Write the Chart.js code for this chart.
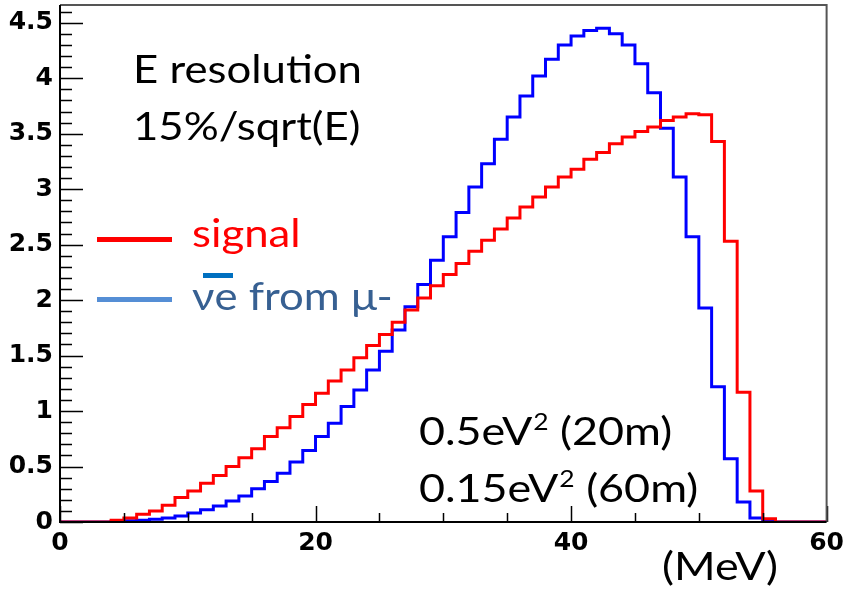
<!DOCTYPE html>
<html>
<head>
<meta charset="utf-8">
<script src="https://cdn.jsdelivr.net/npm/chart.js@4.4.0/dist/chart.umd.min.js"></script>
<style>
  html, body { margin: 0; padding: 0; background: #fff; }
  #wrap { width: 850px; height: 591px; }
</style>
</head>
<body>
<div id="wrap"><canvas id="spectrum"></canvas></div>
<script>
// 1 MeV bins from 0 to 60
const binEdges = [0,1,2,3,4,5,6,7,8,9,10,11,12,13,14,15,16,17,18,19,20,21,22,23,24,25,26,27,28,29,
    30,31,32,33,34,35,36,37,38,39,40,41,42,43,44,45,46,47,48,49,50,51,52,53,54,55,56,57,58,59,60];

const signal = [0,0,0,0,0.015,0.035,0.07,0.10,0.15,0.22,
    0.28,0.35,0.42,0.50,0.58,0.66,0.77,0.85,0.95,1.06,
    1.16,1.27,1.37,1.48,1.59,1.69,1.80,1.91,2.02,2.13,
    2.23,2.33,2.44,2.54,2.64,2.74,2.84,2.93,3.02,3.11,
    3.18,3.27,3.33,3.41,3.47,3.52,3.56,3.62,3.65,3.68,
    3.67,3.43,2.53,1.17,0.28,0.03,0,0,0,0];

const nueBar = [0,0,0,0,0.005,0.012,0.015,0.025,0.035,0.055,
    0.08,0.11,0.145,0.19,0.235,0.30,0.365,0.44,0.54,0.645,
    0.77,0.89,1.04,1.19,1.37,1.54,1.73,1.94,2.14,2.36,
    2.57,2.79,3.02,3.23,3.45,3.65,3.84,4.02,4.17,4.30,
    4.38,4.43,4.45,4.40,4.30,4.13,3.87,3.55,3.11,2.57,
    1.93,1.22,0.57,0.18,0.036,0.012,0,0,0,0];

const xTicks = [0, 20, 40, 60];
const yTicks = [0, 0.5, 1, 1.5, 2, 2.5, 3, 3.5, 4, 4.5];
const xMinorStep = 5;
const yMinorStep = 0.1;
const yMax = 4.66;

const textStretch = 1.15; // the slide text is a little wide

function toSteps(values) {
    const pts = values.map((v, i) => ({ x: binEdges[i], y: v }));
    pts.push({ x: binEdges[values.length], y: values[values.length - 1] });
    return pts;
}

// ROOT style frame with inward ticks
const frameTicks = {
    id: "frameTicks",
    afterDatasetsDraw(chart) {
        const { ctx, chartArea: a, scales } = chart;
        const xs = scales.x, ys = scales.y;
        ctx.save();
        ctx.strokeStyle = "#000";
        ctx.lineWidth = 1.5;
        ctx.beginPath();
        for (let v = 0; v <= yMax + 1e-9; v += yMinorStep) {
            const y = Math.round(ys.getPixelForValue(v)) + 0.5;
            const major = Math.abs(v / 0.5 - Math.round(v / 0.5)) < 1e-6;
            ctx.moveTo(a.left, y);
            ctx.lineTo(a.left + (major ? 23 : 12), y);
        }
        for (let v = 0; v <= 60; v += xMinorStep) {
            const x = Math.round(xs.getPixelForValue(v)) + 0.5;
            const major = v % 20 === 0;
            ctx.moveTo(x, a.bottom);
            ctx.lineTo(x, a.bottom - (major ? 16 : 9));
        }
        ctx.stroke();

        ctx.lineWidth = 2;
        ctx.strokeStyle = "#555";
        ctx.beginPath();
        ctx.moveTo(a.left, a.top);
        ctx.lineTo(a.right, a.top);
        ctx.lineTo(a.right, a.bottom);
        ctx.stroke();
        ctx.strokeStyle = "#000";
        ctx.beginPath();
        ctx.moveTo(a.left, a.top);
        ctx.lineTo(a.left, a.bottom);
        ctx.lineTo(a.right, a.bottom);
        ctx.stroke();
        ctx.restore();
    }
};

// draws text widened, returns the advance
function wideText(ctx, text, x, y, size) {
    ctx.font = size + "px Lato";
    ctx.save();
    ctx.translate(x, y);
    ctx.scale(textStretch, 1);
    ctx.fillText(text, 0, 0);
    ctx.restore();
    return ctx.measureText(text).width * textStretch;
}

function supText(ctx, x, y, base, sup, rest, size) {
    x += wideText(ctx, base, x, y, size) + 1;
    x += wideText(ctx, sup, x, y - size * 0.38, Math.round(size * 0.6));
    wideText(ctx, rest, x, y, size);
}

const annotations = {
    id: "annotations",
    afterDraw(chart) {
        const ctx = chart.ctx;
        ctx.save();
        ctx.textBaseline = "alphabetic";
        ctx.textAlign = "left";
        ctx.fillStyle = "#000";
        wideText(ctx, "E resolution", 133, 83, 38);
        wideText(ctx, "15%/sqrt(E)", 133, 140, 38);

        // legend
        ctx.fillStyle = "#ff0000";
        ctx.fillRect(97, 237, 75, 5);
        wideText(ctx, "signal", 192, 247, 38);
        ctx.fillStyle = "#558ed5";
        ctx.fillRect(97, 297, 75, 5);
        ctx.fillStyle = "#0070c0";
        ctx.fillRect(203, 273, 30, 5);
        ctx.fillStyle = "#376092";
        wideText(ctx, "\u03bde from \u03bc-", 192, 310, 38);

        ctx.fillStyle = "#000";
        supText(ctx, 419, 445, "0.5eV", "2", " (20m)", 39);
        supText(ctx, 419, 502, "0.15eV", "2", " (60m)", 39);
        wideText(ctx, "(MeV)", 662, 580, 39);
        ctx.restore();
    }
};

const tickFont = { family: "DejaVu Sans", weight: "bold", size: 25 };

new Chart(document.getElementById("spectrum"), {
    type: "line",
    data: {
        datasets: [
            {
                label: "signal",
                data: toSteps(signal),
                borderColor: "#ff0000",
                borderWidth: 3,
                stepped: "before",
                pointRadius: 0,
                fill: false
            },
            {
                label: "nue bar from mu-",
                data: toSteps(nueBar),
                borderColor: "#0000ff",
                borderWidth: 3,
                stepped: "before",
                pointRadius: 0,
                fill: false
            }
        ]
    },
    options: {
        responsive: true,
        maintainAspectRatio: false,
        animation: false,
        layout: { padding: { top: 5, right: 18, left: 0, bottom: 0 } },
        plugins: {
            legend: { display: false },
            tooltip: { enabled: false }
        },
        scales: {
            x: {
                type: "linear",
                min: 0,
                max: 60,
                afterBuildTicks: s => { s.ticks = xTicks.map(v => ({ value: v })); },
                afterFit: s => { s.height = 69; },
                grid: { display: false, drawTicks: false },
                border: { display: false },
                ticks: { font: tickFont, color: "#000", padding: 6, maxRotation: 0, autoSkip: false }
            },
            y: {
                type: "linear",
                min: 0,
                max: yMax,
                afterBuildTicks: s => { s.ticks = yTicks.map(v => ({ value: v })); },
                afterFit: s => { s.width = 60; s.paddingTop = 0; s.paddingBottom = 0; },
                grid: { display: false, drawTicks: false },
                border: { display: false },
                ticks: { font: tickFont, color: "#000", padding: 7, autoSkip: false, callback: v => String(v) }
            }
        }
    },
    plugins: [frameTicks, annotations]
});
</script>
</body>
</html>
